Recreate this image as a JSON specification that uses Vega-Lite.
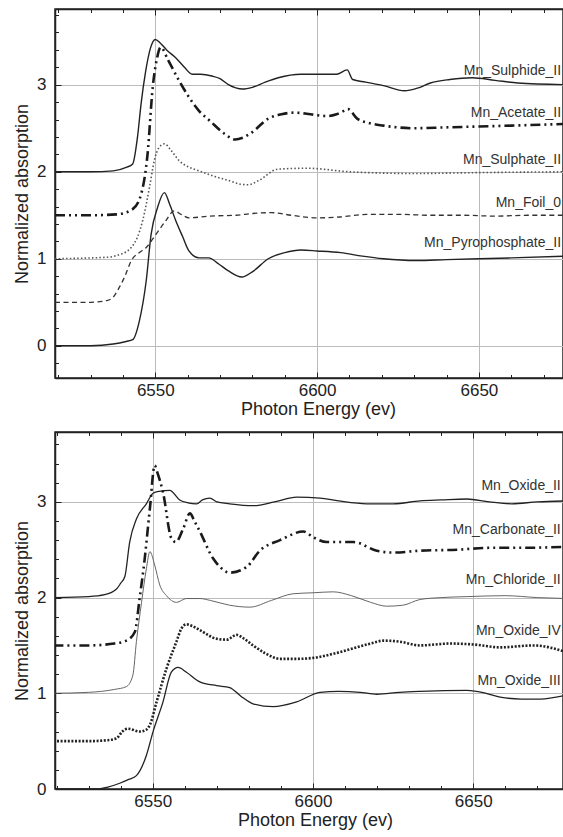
{
  "$schema": "https://vega.github.io/schema/vega-lite/v6.json",
  "padding": {"left": 12, "top": 5, "right": 0, "bottom": 0},
  "spacing": 10,
  "config": {
    "font": "Liberation Sans",
    "view": {"stroke": "#222", "strokeWidth": 1.5},
    "axis": {
      "labelFont": "Liberation Sans", "titleFont": "Liberation Sans",
      "labelColor": "#222", "titleColor": "#222", "titleFontWeight": "normal",
      "labelFontSize": 17, "titleFontSize": 18,
      "domainColor": "#222", "domainWidth": 1.5, "tickColor": "#222", "tickWidth": 1,
      "gridColor": "#bbbbbb", "gridWidth": 1,
      "labelOverlap": false, "labelFlush": false, "labelBound": false
    }
  },
  "datasets": {
    "top": [
      {"s": "Mn_Sulphide_II", "e": 6519, "v": 2.0}, {"s": "Mn_Sulphide_II", "e": 6530, "v": 2.0}, {"s": "Mn_Sulphide_II", "e": 6537, "v": 2.01}, {"s": "Mn_Sulphide_II", "e": 6541, "v": 2.05}, {"s": "Mn_Sulphide_II", "e": 6543, "v": 2.09}, {"s": "Mn_Sulphide_II", "e": 6544.5, "v": 2.4}, {"s": "Mn_Sulphide_II", "e": 6545.6, "v": 2.78}, {"s": "Mn_Sulphide_II", "e": 6547, "v": 3.15}, {"s": "Mn_Sulphide_II", "e": 6548.5, "v": 3.42}, {"s": "Mn_Sulphide_II", "e": 6550, "v": 3.52}, {"s": "Mn_Sulphide_II", "e": 6551.5, "v": 3.48}, {"s": "Mn_Sulphide_II", "e": 6553.5, "v": 3.4}, {"s": "Mn_Sulphide_II", "e": 6556.3, "v": 3.31}, {"s": "Mn_Sulphide_II", "e": 6559, "v": 3.2}, {"s": "Mn_Sulphide_II", "e": 6561.4, "v": 3.12}, {"s": "Mn_Sulphide_II", "e": 6564, "v": 3.12}, {"s": "Mn_Sulphide_II", "e": 6567.5, "v": 3.1}, {"s": "Mn_Sulphide_II", "e": 6570, "v": 3.07}, {"s": "Mn_Sulphide_II", "e": 6572.6, "v": 3.0}, {"s": "Mn_Sulphide_II", "e": 6577, "v": 2.95}, {"s": "Mn_Sulphide_II", "e": 6580, "v": 2.97}, {"s": "Mn_Sulphide_II", "e": 6584, "v": 3.03}, {"s": "Mn_Sulphide_II", "e": 6588, "v": 3.08}, {"s": "Mn_Sulphide_II", "e": 6595, "v": 3.12}, {"s": "Mn_Sulphide_II", "e": 6600, "v": 3.12}, {"s": "Mn_Sulphide_II", "e": 6606, "v": 3.12}, {"s": "Mn_Sulphide_II", "e": 6609.3, "v": 3.17}, {"s": "Mn_Sulphide_II", "e": 6611, "v": 3.06}, {"s": "Mn_Sulphide_II", "e": 6615, "v": 3.03}, {"s": "Mn_Sulphide_II", "e": 6620.5, "v": 2.99}, {"s": "Mn_Sulphide_II", "e": 6627, "v": 2.93}, {"s": "Mn_Sulphide_II", "e": 6631, "v": 2.96}, {"s": "Mn_Sulphide_II", "e": 6635, "v": 3.02}, {"s": "Mn_Sulphide_II", "e": 6641, "v": 3.06}, {"s": "Mn_Sulphide_II", "e": 6648, "v": 3.08}, {"s": "Mn_Sulphide_II", "e": 6655, "v": 3.05}, {"s": "Mn_Sulphide_II", "e": 6662, "v": 3.02}, {"s": "Mn_Sulphide_II", "e": 6677, "v": 3.0},
      {"s": "Mn_Acetate_II", "e": 6519, "v": 1.5}, {"s": "Mn_Acetate_II", "e": 6530, "v": 1.5}, {"s": "Mn_Acetate_II", "e": 6538, "v": 1.51}, {"s": "Mn_Acetate_II", "e": 6543, "v": 1.57}, {"s": "Mn_Acetate_II", "e": 6545.6, "v": 1.74}, {"s": "Mn_Acetate_II", "e": 6547.6, "v": 2.2}, {"s": "Mn_Acetate_II", "e": 6549.2, "v": 2.97}, {"s": "Mn_Acetate_II", "e": 6550.5, "v": 3.3}, {"s": "Mn_Acetate_II", "e": 6551.7, "v": 3.43}, {"s": "Mn_Acetate_II", "e": 6554, "v": 3.28}, {"s": "Mn_Acetate_II", "e": 6557.3, "v": 3.05}, {"s": "Mn_Acetate_II", "e": 6560, "v": 2.88}, {"s": "Mn_Acetate_II", "e": 6563.5, "v": 2.7}, {"s": "Mn_Acetate_II", "e": 6567, "v": 2.58}, {"s": "Mn_Acetate_II", "e": 6571.6, "v": 2.43}, {"s": "Mn_Acetate_II", "e": 6574.7, "v": 2.37}, {"s": "Mn_Acetate_II", "e": 6577, "v": 2.39}, {"s": "Mn_Acetate_II", "e": 6579.8, "v": 2.45}, {"s": "Mn_Acetate_II", "e": 6584.9, "v": 2.61}, {"s": "Mn_Acetate_II", "e": 6589, "v": 2.66}, {"s": "Mn_Acetate_II", "e": 6593, "v": 2.68}, {"s": "Mn_Acetate_II", "e": 6598, "v": 2.66}, {"s": "Mn_Acetate_II", "e": 6603.2, "v": 2.64}, {"s": "Mn_Acetate_II", "e": 6606, "v": 2.66}, {"s": "Mn_Acetate_II", "e": 6608.3, "v": 2.7}, {"s": "Mn_Acetate_II", "e": 6609.5, "v": 2.72}, {"s": "Mn_Acetate_II", "e": 6612.4, "v": 2.61}, {"s": "Mn_Acetate_II", "e": 6616, "v": 2.56}, {"s": "Mn_Acetate_II", "e": 6620.5, "v": 2.53}, {"s": "Mn_Acetate_II", "e": 6629.7, "v": 2.5}, {"s": "Mn_Acetate_II", "e": 6640, "v": 2.51}, {"s": "Mn_Acetate_II", "e": 6650, "v": 2.52}, {"s": "Mn_Acetate_II", "e": 6660, "v": 2.53}, {"s": "Mn_Acetate_II", "e": 6677, "v": 2.55},
      {"s": "Mn_Sulphate_II", "e": 6519, "v": 1.0}, {"s": "Mn_Sulphate_II", "e": 6530, "v": 1.01}, {"s": "Mn_Sulphate_II", "e": 6536, "v": 1.02}, {"s": "Mn_Sulphate_II", "e": 6539, "v": 1.05}, {"s": "Mn_Sulphate_II", "e": 6541, "v": 1.08}, {"s": "Mn_Sulphate_II", "e": 6543, "v": 1.15}, {"s": "Mn_Sulphate_II", "e": 6544.5, "v": 1.25}, {"s": "Mn_Sulphate_II", "e": 6546.1, "v": 1.44}, {"s": "Mn_Sulphate_II", "e": 6548.2, "v": 1.82}, {"s": "Mn_Sulphate_II", "e": 6549.7, "v": 2.13}, {"s": "Mn_Sulphate_II", "e": 6551, "v": 2.27}, {"s": "Mn_Sulphate_II", "e": 6552.8, "v": 2.32}, {"s": "Mn_Sulphate_II", "e": 6555, "v": 2.24}, {"s": "Mn_Sulphate_II", "e": 6557.3, "v": 2.13}, {"s": "Mn_Sulphate_II", "e": 6560, "v": 2.06}, {"s": "Mn_Sulphate_II", "e": 6563.5, "v": 2.01}, {"s": "Mn_Sulphate_II", "e": 6568, "v": 1.95}, {"s": "Mn_Sulphate_II", "e": 6572.6, "v": 1.9}, {"s": "Mn_Sulphate_II", "e": 6576, "v": 1.86}, {"s": "Mn_Sulphate_II", "e": 6578.7, "v": 1.85}, {"s": "Mn_Sulphate_II", "e": 6582, "v": 1.9}, {"s": "Mn_Sulphate_II", "e": 6587.9, "v": 2.03}, {"s": "Mn_Sulphate_II", "e": 6597, "v": 2.04}, {"s": "Mn_Sulphate_II", "e": 6610, "v": 2.0}, {"s": "Mn_Sulphate_II", "e": 6630, "v": 1.98}, {"s": "Mn_Sulphate_II", "e": 6650, "v": 1.99}, {"s": "Mn_Sulphate_II", "e": 6677, "v": 2.0},
      {"s": "Mn_Foil_0", "e": 6519, "v": 0.5}, {"s": "Mn_Foil_0", "e": 6530, "v": 0.5}, {"s": "Mn_Foil_0", "e": 6535, "v": 0.52}, {"s": "Mn_Foil_0", "e": 6537, "v": 0.56}, {"s": "Mn_Foil_0", "e": 6539, "v": 0.68}, {"s": "Mn_Foil_0", "e": 6540.5, "v": 0.79}, {"s": "Mn_Foil_0", "e": 6542.6, "v": 0.98}, {"s": "Mn_Foil_0", "e": 6545, "v": 1.07}, {"s": "Mn_Foil_0", "e": 6547.2, "v": 1.13}, {"s": "Mn_Foil_0", "e": 6550.2, "v": 1.28}, {"s": "Mn_Foil_0", "e": 6553.3, "v": 1.44}, {"s": "Mn_Foil_0", "e": 6555.8, "v": 1.55}, {"s": "Mn_Foil_0", "e": 6558, "v": 1.51}, {"s": "Mn_Foil_0", "e": 6560.4, "v": 1.47}, {"s": "Mn_Foil_0", "e": 6566.5, "v": 1.49}, {"s": "Mn_Foil_0", "e": 6575, "v": 1.5}, {"s": "Mn_Foil_0", "e": 6580, "v": 1.52}, {"s": "Mn_Foil_0", "e": 6585.9, "v": 1.53}, {"s": "Mn_Foil_0", "e": 6592, "v": 1.5}, {"s": "Mn_Foil_0", "e": 6600, "v": 1.47}, {"s": "Mn_Foil_0", "e": 6607, "v": 1.48}, {"s": "Mn_Foil_0", "e": 6615.4, "v": 1.51}, {"s": "Mn_Foil_0", "e": 6625.6, "v": 1.51}, {"s": "Mn_Foil_0", "e": 6635, "v": 1.5}, {"s": "Mn_Foil_0", "e": 6645, "v": 1.5}, {"s": "Mn_Foil_0", "e": 6655, "v": 1.49}, {"s": "Mn_Foil_0", "e": 6665, "v": 1.5}, {"s": "Mn_Foil_0", "e": 6677, "v": 1.5},
      {"s": "Mn_Pyrophosphate_II", "e": 6519, "v": 0.0}, {"s": "Mn_Pyrophosphate_II", "e": 6530, "v": 0.0}, {"s": "Mn_Pyrophosphate_II", "e": 6537, "v": 0.02}, {"s": "Mn_Pyrophosphate_II", "e": 6541, "v": 0.05}, {"s": "Mn_Pyrophosphate_II", "e": 6543, "v": 0.07}, {"s": "Mn_Pyrophosphate_II", "e": 6545.1, "v": 0.29}, {"s": "Mn_Pyrophosphate_II", "e": 6547.2, "v": 0.75}, {"s": "Mn_Pyrophosphate_II", "e": 6548.7, "v": 1.28}, {"s": "Mn_Pyrophosphate_II", "e": 6550.7, "v": 1.59}, {"s": "Mn_Pyrophosphate_II", "e": 6552.8, "v": 1.76}, {"s": "Mn_Pyrophosphate_II", "e": 6554.5, "v": 1.62}, {"s": "Mn_Pyrophosphate_II", "e": 6556.3, "v": 1.44}, {"s": "Mn_Pyrophosphate_II", "e": 6558.5, "v": 1.25}, {"s": "Mn_Pyrophosphate_II", "e": 6560.4, "v": 1.09}, {"s": "Mn_Pyrophosphate_II", "e": 6563.5, "v": 1.01}, {"s": "Mn_Pyrophosphate_II", "e": 6566.5, "v": 1.01}, {"s": "Mn_Pyrophosphate_II", "e": 6569.6, "v": 0.94}, {"s": "Mn_Pyrophosphate_II", "e": 6572.6, "v": 0.86}, {"s": "Mn_Pyrophosphate_II", "e": 6576.7, "v": 0.79}, {"s": "Mn_Pyrophosphate_II", "e": 6580, "v": 0.85}, {"s": "Mn_Pyrophosphate_II", "e": 6584.9, "v": 1.0}, {"s": "Mn_Pyrophosphate_II", "e": 6590, "v": 1.07}, {"s": "Mn_Pyrophosphate_II", "e": 6595, "v": 1.1}, {"s": "Mn_Pyrophosphate_II", "e": 6600, "v": 1.09}, {"s": "Mn_Pyrophosphate_II", "e": 6607.3, "v": 1.07}, {"s": "Mn_Pyrophosphate_II", "e": 6614, "v": 1.03}, {"s": "Mn_Pyrophosphate_II", "e": 6620.5, "v": 1.0}, {"s": "Mn_Pyrophosphate_II", "e": 6630.7, "v": 0.98}, {"s": "Mn_Pyrophosphate_II", "e": 6640, "v": 0.99}, {"s": "Mn_Pyrophosphate_II", "e": 6650, "v": 1.0}, {"s": "Mn_Pyrophosphate_II", "e": 6660, "v": 1.01}, {"s": "Mn_Pyrophosphate_II", "e": 6677, "v": 1.03}
    ],
    "topLabels": [
      {"s": "Mn_Sulphide_II", "e": 6675.4, "v": 3.16},
      {"s": "Mn_Acetate_II", "e": 6675.4, "v": 2.68},
      {"s": "Mn_Sulphate_II", "e": 6675.4, "v": 2.13},
      {"s": "Mn_Foil_0", "e": 6675.4, "v": 1.64},
      {"s": "Mn_Pyrophosphate_II", "e": 6675.4, "v": 1.18}
    ],
    "bot": [
      {"s": "Mn_Oxide_II", "e": 6519, "v": 2.0}, {"s": "Mn_Oxide_II", "e": 6530, "v": 2.01}, {"s": "Mn_Oxide_II", "e": 6535, "v": 2.03}, {"s": "Mn_Oxide_II", "e": 6538.7, "v": 2.09}, {"s": "Mn_Oxide_II", "e": 6540, "v": 2.15}, {"s": "Mn_Oxide_II", "e": 6541.3, "v": 2.22}, {"s": "Mn_Oxide_II", "e": 6542.8, "v": 2.58}, {"s": "Mn_Oxide_II", "e": 6544.9, "v": 2.82}, {"s": "Mn_Oxide_II", "e": 6548, "v": 2.98}, {"s": "Mn_Oxide_II", "e": 6550.1, "v": 3.09}, {"s": "Mn_Oxide_II", "e": 6552, "v": 3.11}, {"s": "Mn_Oxide_II", "e": 6555.3, "v": 3.12}, {"s": "Mn_Oxide_II", "e": 6558.4, "v": 3.02}, {"s": "Mn_Oxide_II", "e": 6561, "v": 2.99}, {"s": "Mn_Oxide_II", "e": 6563.7, "v": 2.98}, {"s": "Mn_Oxide_II", "e": 6565.5, "v": 3.02}, {"s": "Mn_Oxide_II", "e": 6567.8, "v": 3.04}, {"s": "Mn_Oxide_II", "e": 6570, "v": 3.0}, {"s": "Mn_Oxide_II", "e": 6574, "v": 2.98}, {"s": "Mn_Oxide_II", "e": 6581.3, "v": 2.96}, {"s": "Mn_Oxide_II", "e": 6588, "v": 3.0}, {"s": "Mn_Oxide_II", "e": 6594.9, "v": 3.05}, {"s": "Mn_Oxide_II", "e": 6602.2, "v": 3.04}, {"s": "Mn_Oxide_II", "e": 6608, "v": 3.01}, {"s": "Mn_Oxide_II", "e": 6616.8, "v": 2.98}, {"s": "Mn_Oxide_II", "e": 6625, "v": 2.98}, {"s": "Mn_Oxide_II", "e": 6633.4, "v": 3.01}, {"s": "Mn_Oxide_II", "e": 6640, "v": 3.02}, {"s": "Mn_Oxide_II", "e": 6648, "v": 3.03}, {"s": "Mn_Oxide_II", "e": 6655, "v": 3.0}, {"s": "Mn_Oxide_II", "e": 6662, "v": 2.98}, {"s": "Mn_Oxide_II", "e": 6670, "v": 3.0}, {"s": "Mn_Oxide_II", "e": 6679, "v": 3.01},
      {"s": "Mn_Carbonate_II", "e": 6519, "v": 1.5}, {"s": "Mn_Carbonate_II", "e": 6530, "v": 1.5}, {"s": "Mn_Carbonate_II", "e": 6538, "v": 1.52}, {"s": "Mn_Carbonate_II", "e": 6541.8, "v": 1.55}, {"s": "Mn_Carbonate_II", "e": 6544.4, "v": 1.64}, {"s": "Mn_Carbonate_II", "e": 6545.9, "v": 1.99}, {"s": "Mn_Carbonate_II", "e": 6547.5, "v": 2.41}, {"s": "Mn_Carbonate_II", "e": 6549.1, "v": 2.93}, {"s": "Mn_Carbonate_II", "e": 6550.6, "v": 3.38}, {"s": "Mn_Carbonate_II", "e": 6551.5, "v": 3.3}, {"s": "Mn_Carbonate_II", "e": 6553.2, "v": 3.1}, {"s": "Mn_Carbonate_II", "e": 6555.8, "v": 2.62}, {"s": "Mn_Carbonate_II", "e": 6557.2, "v": 2.58}, {"s": "Mn_Carbonate_II", "e": 6559.5, "v": 2.72}, {"s": "Mn_Carbonate_II", "e": 6561.6, "v": 2.88}, {"s": "Mn_Carbonate_II", "e": 6563, "v": 2.8}, {"s": "Mn_Carbonate_II", "e": 6564.7, "v": 2.69}, {"s": "Mn_Carbonate_II", "e": 6568.8, "v": 2.41}, {"s": "Mn_Carbonate_II", "e": 6571, "v": 2.32}, {"s": "Mn_Carbonate_II", "e": 6574, "v": 2.26}, {"s": "Mn_Carbonate_II", "e": 6579.3, "v": 2.32}, {"s": "Mn_Carbonate_II", "e": 6583.4, "v": 2.49}, {"s": "Mn_Carbonate_II", "e": 6589.7, "v": 2.6}, {"s": "Mn_Carbonate_II", "e": 6597, "v": 2.69}, {"s": "Mn_Carbonate_II", "e": 6600.1, "v": 2.63}, {"s": "Mn_Carbonate_II", "e": 6604.3, "v": 2.58}, {"s": "Mn_Carbonate_II", "e": 6612.6, "v": 2.58}, {"s": "Mn_Carbonate_II", "e": 6619.9, "v": 2.49}, {"s": "Mn_Carbonate_II", "e": 6625.1, "v": 2.47}, {"s": "Mn_Carbonate_II", "e": 6633.4, "v": 2.49}, {"s": "Mn_Carbonate_II", "e": 6645, "v": 2.5}, {"s": "Mn_Carbonate_II", "e": 6655, "v": 2.52}, {"s": "Mn_Carbonate_II", "e": 6665, "v": 2.52}, {"s": "Mn_Carbonate_II", "e": 6679, "v": 2.53},
      {"s": "Mn_Chloride_II", "e": 6519, "v": 1.0}, {"s": "Mn_Chloride_II", "e": 6530, "v": 1.01}, {"s": "Mn_Chloride_II", "e": 6538, "v": 1.04}, {"s": "Mn_Chloride_II", "e": 6541.8, "v": 1.07}, {"s": "Mn_Chloride_II", "e": 6543.8, "v": 1.19}, {"s": "Mn_Chloride_II", "e": 6544.9, "v": 1.54}, {"s": "Mn_Chloride_II", "e": 6546.5, "v": 1.95}, {"s": "Mn_Chloride_II", "e": 6548, "v": 2.3}, {"s": "Mn_Chloride_II", "e": 6549.1, "v": 2.48}, {"s": "Mn_Chloride_II", "e": 6550.6, "v": 2.34}, {"s": "Mn_Chloride_II", "e": 6552.2, "v": 2.13}, {"s": "Mn_Chloride_II", "e": 6554.3, "v": 2.02}, {"s": "Mn_Chloride_II", "e": 6557.4, "v": 1.95}, {"s": "Mn_Chloride_II", "e": 6560.5, "v": 1.99}, {"s": "Mn_Chloride_II", "e": 6564.7, "v": 1.99}, {"s": "Mn_Chloride_II", "e": 6568, "v": 1.97}, {"s": "Mn_Chloride_II", "e": 6574, "v": 1.92}, {"s": "Mn_Chloride_II", "e": 6580.3, "v": 1.9}, {"s": "Mn_Chloride_II", "e": 6587, "v": 1.97}, {"s": "Mn_Chloride_II", "e": 6593.8, "v": 2.04}, {"s": "Mn_Chloride_II", "e": 6600, "v": 2.05}, {"s": "Mn_Chloride_II", "e": 6606.3, "v": 2.06}, {"s": "Mn_Chloride_II", "e": 6612, "v": 2.02}, {"s": "Mn_Chloride_II", "e": 6618, "v": 1.95}, {"s": "Mn_Chloride_II", "e": 6623, "v": 1.91}, {"s": "Mn_Chloride_II", "e": 6628, "v": 1.92}, {"s": "Mn_Chloride_II", "e": 6633.4, "v": 1.98}, {"s": "Mn_Chloride_II", "e": 6640, "v": 2.0}, {"s": "Mn_Chloride_II", "e": 6648, "v": 2.01}, {"s": "Mn_Chloride_II", "e": 6660, "v": 2.02}, {"s": "Mn_Chloride_II", "e": 6670, "v": 2.0}, {"s": "Mn_Chloride_II", "e": 6679, "v": 1.99},
      {"s": "Mn_Oxide_IV", "e": 6519, "v": 0.5}, {"s": "Mn_Oxide_IV", "e": 6530, "v": 0.5}, {"s": "Mn_Oxide_IV", "e": 6536, "v": 0.51}, {"s": "Mn_Oxide_IV", "e": 6538.7, "v": 0.53}, {"s": "Mn_Oxide_IV", "e": 6540.5, "v": 0.6}, {"s": "Mn_Oxide_IV", "e": 6542.3, "v": 0.63}, {"s": "Mn_Oxide_IV", "e": 6546, "v": 0.6}, {"s": "Mn_Oxide_IV", "e": 6548, "v": 0.62}, {"s": "Mn_Oxide_IV", "e": 6549.1, "v": 0.67}, {"s": "Mn_Oxide_IV", "e": 6551.2, "v": 0.91}, {"s": "Mn_Oxide_IV", "e": 6554.3, "v": 1.26}, {"s": "Mn_Oxide_IV", "e": 6557.4, "v": 1.54}, {"s": "Mn_Oxide_IV", "e": 6559, "v": 1.68}, {"s": "Mn_Oxide_IV", "e": 6560.5, "v": 1.72}, {"s": "Mn_Oxide_IV", "e": 6562.5, "v": 1.7}, {"s": "Mn_Oxide_IV", "e": 6564.7, "v": 1.66}, {"s": "Mn_Oxide_IV", "e": 6569.9, "v": 1.57}, {"s": "Mn_Oxide_IV", "e": 6573, "v": 1.56}, {"s": "Mn_Oxide_IV", "e": 6576.2, "v": 1.61}, {"s": "Mn_Oxide_IV", "e": 6578.5, "v": 1.57}, {"s": "Mn_Oxide_IV", "e": 6581.3, "v": 1.5}, {"s": "Mn_Oxide_IV", "e": 6585, "v": 1.42}, {"s": "Mn_Oxide_IV", "e": 6589.7, "v": 1.36}, {"s": "Mn_Oxide_IV", "e": 6595, "v": 1.36}, {"s": "Mn_Oxide_IV", "e": 6600.1, "v": 1.37}, {"s": "Mn_Oxide_IV", "e": 6606, "v": 1.41}, {"s": "Mn_Oxide_IV", "e": 6612.6, "v": 1.47}, {"s": "Mn_Oxide_IV", "e": 6618, "v": 1.52}, {"s": "Mn_Oxide_IV", "e": 6622, "v": 1.55}, {"s": "Mn_Oxide_IV", "e": 6627, "v": 1.54}, {"s": "Mn_Oxide_IV", "e": 6633.4, "v": 1.5}, {"s": "Mn_Oxide_IV", "e": 6642.8, "v": 1.52}, {"s": "Mn_Oxide_IV", "e": 6650, "v": 1.51}, {"s": "Mn_Oxide_IV", "e": 6658.4, "v": 1.48}, {"s": "Mn_Oxide_IV", "e": 6668.8, "v": 1.5}, {"s": "Mn_Oxide_IV", "e": 6679, "v": 1.43},
      {"s": "Mn_Oxide_III", "e": 6519, "v": 0.0}, {"s": "Mn_Oxide_III", "e": 6532, "v": 0.0}, {"s": "Mn_Oxide_III", "e": 6536, "v": 0.02}, {"s": "Mn_Oxide_III", "e": 6539.7, "v": 0.06}, {"s": "Mn_Oxide_III", "e": 6542.5, "v": 0.1}, {"s": "Mn_Oxide_III", "e": 6544.9, "v": 0.14}, {"s": "Mn_Oxide_III", "e": 6548, "v": 0.35}, {"s": "Mn_Oxide_III", "e": 6550.1, "v": 0.6}, {"s": "Mn_Oxide_III", "e": 6553.2, "v": 0.91}, {"s": "Mn_Oxide_III", "e": 6555.8, "v": 1.22}, {"s": "Mn_Oxide_III", "e": 6557.9, "v": 1.27}, {"s": "Mn_Oxide_III", "e": 6560.5, "v": 1.22}, {"s": "Mn_Oxide_III", "e": 6564.7, "v": 1.12}, {"s": "Mn_Oxide_III", "e": 6569.9, "v": 1.08}, {"s": "Mn_Oxide_III", "e": 6574, "v": 1.06}, {"s": "Mn_Oxide_III", "e": 6577.5, "v": 0.97}, {"s": "Mn_Oxide_III", "e": 6581.3, "v": 0.89}, {"s": "Mn_Oxide_III", "e": 6587.6, "v": 0.86}, {"s": "Mn_Oxide_III", "e": 6594.9, "v": 0.91}, {"s": "Mn_Oxide_III", "e": 6602.2, "v": 1.01}, {"s": "Mn_Oxide_III", "e": 6608, "v": 1.02}, {"s": "Mn_Oxide_III", "e": 6614.7, "v": 1.01}, {"s": "Mn_Oxide_III", "e": 6619.9, "v": 0.99}, {"s": "Mn_Oxide_III", "e": 6627, "v": 1.01}, {"s": "Mn_Oxide_III", "e": 6633.4, "v": 1.02}, {"s": "Mn_Oxide_III", "e": 6648, "v": 1.03}, {"s": "Mn_Oxide_III", "e": 6654, "v": 1.0}, {"s": "Mn_Oxide_III", "e": 6658.4, "v": 0.96}, {"s": "Mn_Oxide_III", "e": 6665, "v": 0.94}, {"s": "Mn_Oxide_III", "e": 6671, "v": 0.94}, {"s": "Mn_Oxide_III", "e": 6679, "v": 0.98}
    ],
    "botLabels": [
      {"s": "Mn_Oxide_II", "e": 6677.3, "v": 3.17},
      {"s": "Mn_Carbonate_II", "e": 6677.3, "v": 2.71},
      {"s": "Mn_Chloride_II", "e": 6677.3, "v": 2.18},
      {"s": "Mn_Oxide_IV", "e": 6677.3, "v": 1.65},
      {"s": "Mn_Oxide_III", "e": 6677.3, "v": 1.13}
    ]
  },
  "vconcat": [
    {
      "width": 508,
      "height": 369,
      "resolve": {"axis": {"x": "independent", "y": "independent"}},
      "layer": [
        {
          "data": {"name": "top"},
          "encoding": {
            "x": {"field": "e", "type": "quantitative",
              "scale": {"domain": [6519, 6676], "nice": false, "zero": false},
              "axis": {
                "orient": "bottom",
                "values": [6520, 6530, 6540, 6550, 6560, 6570, 6580, 6590, 6600, 6610, 6620, 6630, 6640, 6650, 6660, 6670],
                "format": "d",
                "labelExpr": "datum.value % 50 === 0 ? datum.label : ''",
                "tickSize": {"condition": {"test": "datum.value % 50 === 0", "value": -6}, "value": -3.5},
                "grid": true,
                "gridOpacity": {"condition": {"test": "datum.value % 50 === 0", "value": 1}, "value": 0},
                "labelPadding": 10,
                "title": "Photon Energy (ev)",
                "titlePadding": 0,
                "titleX": 263
              }
            },
            "y": {"field": "v", "type": "quantitative",
              "scale": {"domain": [-0.37, 3.87], "nice": false, "zero": false},
              "axis": {
                "orient": "left",
                "values": [-0.2, 0, 0.2, 0.4, 0.6, 0.8, 1, 1.2, 1.4, 1.6, 1.8, 2, 2.2, 2.4, 2.6, 2.8, 3, 3.2, 3.4, 3.6, 3.8],
                "labelExpr": "abs(datum.value - round(datum.value)) < 0.001 ? format(round(datum.value), 'd') : ''",
                "tickSize": {"condition": {"test": "abs(datum.value - round(datum.value)) < 0.001", "value": -6}, "value": -3.5},
                "grid": true,
                "gridOpacity": {"condition": {"test": "abs(datum.value - round(datum.value)) < 0.001", "value": 1}, "value": 0},
                "labelPadding": 15,
                "title": "Normalized absorption",
                "titlePadding": 5
              }
            }
          },
          "layer": [
            {"transform": [{"filter": {"field": "s", "oneOf": ["Mn_Sulphide_II", "Mn_Pyrophosphate_II"]}}],
             "mark": {"type": "line", "interpolate": "monotone", "clip": true, "color": "#222", "strokeWidth": 1.4},
             "encoding": {"detail": {"field": "s"}}},
            {"transform": [{"filter": {"field": "s", "equal": "Mn_Acetate_II"}}],
             "mark": {"type": "line", "interpolate": "monotone", "clip": true, "color": "#1a1a1a", "strokeWidth": 2.6, "strokeDash": [10, 4, 2, 4, 2, 4]},
             "encoding": {"detail": {"field": "s"}}},
            {"transform": [{"filter": {"field": "s", "equal": "Mn_Sulphate_II"}}],
             "mark": {"type": "line", "interpolate": "monotone", "clip": true, "color": "#555", "strokeWidth": 1.6, "strokeDash": [1.5, 2.2]},
             "encoding": {"detail": {"field": "s"}}},
            {"transform": [{"filter": {"field": "s", "equal": "Mn_Foil_0"}}],
             "mark": {"type": "line", "interpolate": "monotone", "clip": true, "color": "#333", "strokeWidth": 1.3, "strokeDash": [5, 3.5]},
             "encoding": {"detail": {"field": "s"}}}
          ]
        },
        {
          "data": {"name": "topLabels"},
          "mark": {"type": "text", "align": "right", "baseline": "middle", "fontSize": 14, "font": "Liberation Sans", "color": "#333"},
          "encoding": {
            "x": {"field": "e", "type": "quantitative",
              "axis": {
                "orient": "top",
                "values": [6520, 6530, 6540, 6550, 6560, 6570, 6580, 6590, 6600, 6610, 6620, 6630, 6640, 6650, 6660, 6670],
                "labels": false, "title": null, "grid": false,
                "tickSize": {"condition": {"test": "datum.value % 50 === 0", "value": -6}, "value": -3.5}
              }
            },
            "y": {"field": "v", "type": "quantitative", "axis": null},
            "text": {"field": "s"}
          }
        }
      ]
    },
    {
      "width": 508,
      "height": 357,
      "resolve": {"axis": {"x": "independent", "y": "independent"}},
      "layer": [
        {
          "data": {"name": "bot"},
          "encoding": {
            "x": {"field": "e", "type": "quantitative",
              "scale": {"domain": [6519.5, 6678], "nice": false, "zero": false},
              "axis": {
                "orient": "bottom",
                "values": [6520, 6530, 6540, 6550, 6560, 6570, 6580, 6590, 6600, 6610, 6620, 6630, 6640, 6650, 6660, 6670],
                "format": "d",
                "labelExpr": "datum.value % 50 === 0 ? datum.label : ''",
                "tickSize": {"condition": {"test": "datum.value % 50 === 0", "value": -6}, "value": -3.5},
                "grid": true,
                "gridOpacity": {"condition": {"test": "datum.value % 50 === 0", "value": 1}, "value": 0},
                "labelPadding": 10,
                "title": "Photon Energy (ev)",
                "titlePadding": 0,
                "titleX": 260
              }
            },
            "y": {"field": "v", "type": "quantitative",
              "scale": {"domain": [0, 3.73], "nice": false, "zero": false},
              "axis": {
                "orient": "left",
                "values": [0, 0.2, 0.4, 0.6, 0.8, 1, 1.2, 1.4, 1.6, 1.8, 2, 2.2, 2.4, 2.6, 2.8, 3, 3.2, 3.4, 3.6],
                "labelExpr": "abs(datum.value - round(datum.value)) < 0.001 ? format(round(datum.value), 'd') : ''",
                "tickSize": {"condition": {"test": "abs(datum.value - round(datum.value)) < 0.001", "value": -6}, "value": -3.5},
                "grid": true,
                "gridOpacity": {"condition": {"test": "abs(datum.value - round(datum.value)) < 0.001", "value": 1}, "value": 0},
                "labelPadding": 15,
                "title": "Normalized absorption",
                "titlePadding": 5
              }
            }
          },
          "layer": [
            {"transform": [{"filter": {"field": "s", "oneOf": ["Mn_Oxide_II", "Mn_Oxide_III"]}}],
             "mark": {"type": "line", "interpolate": "monotone", "clip": true, "color": "#222", "strokeWidth": 1.3},
             "encoding": {"detail": {"field": "s"}}},
            {"transform": [{"filter": {"field": "s", "equal": "Mn_Chloride_II"}}],
             "mark": {"type": "line", "interpolate": "monotone", "clip": true, "color": "#555", "strokeWidth": 0.9},
             "encoding": {"detail": {"field": "s"}}},
            {"transform": [{"filter": {"field": "s", "equal": "Mn_Carbonate_II"}}],
             "mark": {"type": "line", "interpolate": "monotone", "clip": true, "color": "#1a1a1a", "strokeWidth": 2.6, "strokeDash": [10, 4, 2, 4, 2, 4]},
             "encoding": {"detail": {"field": "s"}}},
            {"transform": [{"filter": {"field": "s", "equal": "Mn_Oxide_IV"}}],
             "mark": {"type": "line", "interpolate": "monotone", "clip": true, "color": "#222", "strokeWidth": 2.6, "strokeDash": [2, 1.6]},
             "encoding": {"detail": {"field": "s"}}}
          ]
        },
        {
          "data": {"name": "botLabels"},
          "mark": {"type": "text", "align": "right", "baseline": "middle", "fontSize": 14, "font": "Liberation Sans", "color": "#333"},
          "encoding": {
            "x": {"field": "e", "type": "quantitative",
              "axis": {
                "orient": "top",
                "values": [6520, 6530, 6540, 6550, 6560, 6570, 6580, 6590, 6600, 6610, 6620, 6630, 6640, 6650, 6660, 6670],
                "labels": false, "title": null, "grid": false,
                "tickSize": {"condition": {"test": "datum.value % 50 === 0", "value": -6}, "value": -3.5}
              }
            },
            "y": {"field": "v", "type": "quantitative", "axis": null},
            "text": {"field": "s"}
          }
        }
      ]
    }
  ]
}
